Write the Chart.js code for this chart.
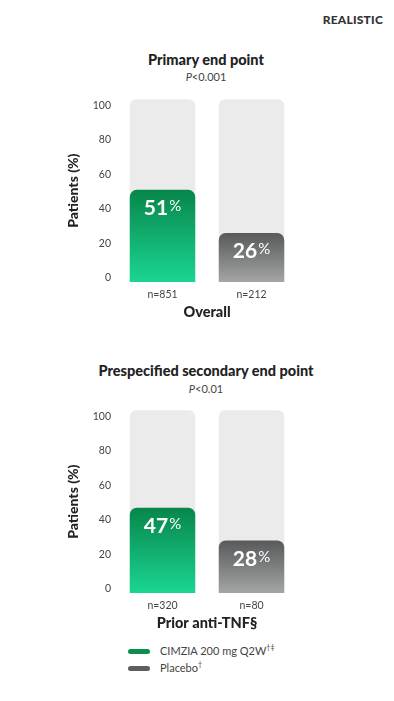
<!DOCTYPE html>
<html>
<head>
<meta charset="utf-8">
<script src="https://cdn.jsdelivr.net/npm/chart.js@4.4.0/dist/chart.umd.min.js"></script>
<style>
  body { margin: 0; width: 394px; height: 701px; background: #fff; position: relative; overflow: hidden; font-family: Lato, sans-serif; color: #333; }
  .tag { position: absolute; right: 11px; top: 12px; font-weight: 900; font-size: 12px; color: #333; letter-spacing: 0.2px; }
  .head { position: absolute; left: 0; width: 412px; text-align: center; font-weight: 900; font-size: 14.5px; color: #222; }
  .pval { position: absolute; left: 0; width: 412px; text-align: center; font-size: 11px; color: #444; }
  canvas { position: absolute; left: 0; }
  .leg { position: absolute; left: 128px; font-size: 11px; color: #444; }
  .leg span.sw { position: absolute; left: 0; top: 6px; width: 22px; height: 5px; border-radius: 3px; }
  .leg span.tx { position: absolute; left: 32px; top: 0; white-space: nowrap; }
  sup { font-size: 7px; }
</style>
</head>
<body>
<div class="tag">REALISTIC</div>
<div class="head" style="top:51px">Primary end point</div>
<div class="pval" style="top:70px"><i>P</i>&lt;0.001</div>
<canvas id="chart1" width="394" height="236" style="top:86px"></canvas>

<div class="head" style="top:362px">Prespecified secondary end point</div>
<div class="pval" style="top:382px"><i>P</i>&lt;0.01</div>
<canvas id="chart2" width="394" height="236" style="top:397px"></canvas>

<div class="leg" style="top:643px"><span class="sw" style="background:#0b8f4f"></span><span class="tx" id="leg0"></span></div>
<div class="leg" style="top:660px"><span class="sw" style="background:#5d5e60"></span><span class="tx" id="leg1"></span></div>

<script>
const series = ['CIMZIA 200 mg Q2W', 'Placebo'];
const seriesMarks = ['†‡', '†'];

const groups1 = ['n=851', 'n=212'];
const values1 = [51, 26];
const groupTitle1 = 'Overall';

const groups2 = ['n=320', 'n=80'];
const values2 = [47, 28];
const groupTitle2 = 'Prior anti-TNF§';

const yTicks = [0, 20, 40, 60, 80, 100];
const yMin = -2.4;
const yMax = 103.5;

const gradients = [['#07864a', '#1bd593'], ['#58595b', '#a3a6a3']];

document.getElementById('leg0').innerHTML = series[0] + '<sup>' + seriesMarks[0] + '</sup>';
document.getElementById('leg1').innerHTML = series[1] + '<sup>' + seriesMarks[1] + '</sup>';

Chart.defaults.font.family = 'Lato, sans-serif';

function roundTop(ctx, x, y, w, h, r) {
    ctx.beginPath();
    ctx.moveTo(x, y + h);
    ctx.lineTo(x, y + r);
    ctx.quadraticCurveTo(x, y, x + r, y);
    ctx.lineTo(x + w - r, y);
    ctx.quadraticCurveTo(x + w, y, x + w, y + r);
    ctx.lineTo(x + w, y + h);
    ctx.closePath();
}

// grey track behind each bar
const trackPlugin = {
    id: 'track',
    beforeDatasetsDraw(chart) {
        const ctx = chart.ctx;
        const area = chart.chartArea;
        chart.getDatasetMeta(0).data.forEach(bar => {
            ctx.save();
            ctx.fillStyle = '#ebebeb';
            roundTop(ctx, bar.x - bar.width / 2, area.top, bar.width, area.bottom - area.top, 7);
            ctx.fill();
            ctx.restore();
        });
    }
};

// "51%" labels inside bars
const valuePlugin = {
    id: 'valueLabels',
    afterDatasetsDraw(chart) {
        const ctx = chart.ctx;
        const ds = chart.data.datasets[0];
        chart.getDatasetMeta(0).data.forEach((bar, i) => {
            const num = String(ds.data[i]);
            ctx.save();
            ctx.fillStyle = '#fff';
            ctx.textBaseline = 'alphabetic';
            ctx.font = 'bold 21px Lato, sans-serif';
            const w1 = ctx.measureText(num).width;
            ctx.font = '15px Lato, sans-serif';
            const w2 = ctx.measureText('%').width;
            const x0 = bar.x - (w1 + w2 + 1) / 2;
            const base = bar.y + 25;
            ctx.font = 'bold 21px Lato, sans-serif';
            ctx.fillText(num, x0, base);
            ctx.font = '15px Lato, sans-serif';
            ctx.fillText('%', x0 + w1 + 1, base - 4);
            ctx.restore();
        });
    }
};

function makeChart(id, groups, values, groupTitle) {
    const ctx = document.getElementById(id).getContext('2d');
    return new Chart(ctx, {
        type: 'bar',
        data: {
            labels: groups,
            datasets: [{
                data: values,
                base: yMin,
                backgroundColor: c => {
                    const chart = c.chart;
                    const area = chart.chartArea;
                    const g = gradients[c.dataIndex];
                    if (!area) return g[0];
                    const top = chart.scales.y.getPixelForValue(c.raw);
                    const grad = chart.ctx.createLinearGradient(0, top, 0, area.bottom);
                    grad.addColorStop(0, g[0]);
                    grad.addColorStop(1, g[1]);
                    return grad;
                },
                borderRadius: { topLeft: 7, topRight: 7, bottomLeft: 0, bottomRight: 0 },
                borderSkipped: 'start',
                barPercentage: 0.736,
                categoryPercentage: 1
            }]
        },
        options: {
            responsive: false,
            animation: false,
            devicePixelRatio: 1,
            layout: { padding: { left: 61, right: 98, top: 0, bottom: 0 } },
            plugins: { legend: { display: false }, tooltip: { enabled: false } },
            scales: {
                x: {
                    grid: { display: false, drawTicks: false },
                    border: { display: false },
                    ticks: { color: '#444', font: { size: 10.5 }, padding: 6 },
                    title: { display: true, text: groupTitle, color: '#222', font: { size: 14.5, weight: '900' }, padding: { top: 0, bottom: 1 } },
                    afterFit: s => { s.height = 40; }
                },
                y: {
                    min: yMin,
                    max: yMax,
                    afterBuildTicks: s => { s.ticks = yTicks.map(v => ({ value: v })); },
                    grid: { display: false, drawTicks: false },
                    border: { display: false },
                    ticks: { color: '#444', font: { size: 10.5 }, padding: 7 },
                    title: { display: true, text: 'Patients (%)', color: '#222', font: { size: 14, weight: '900' }, padding: { top: 4, bottom: 4 } },
                    afterFit: s => { s.width = 57; }
                }
            }
        },
        plugins: [trackPlugin, valuePlugin]
    });
}

makeChart('chart1', groups1, values1, groupTitle1);
makeChart('chart2', groups2, values2, groupTitle2);
</script>
</body>
</html>
